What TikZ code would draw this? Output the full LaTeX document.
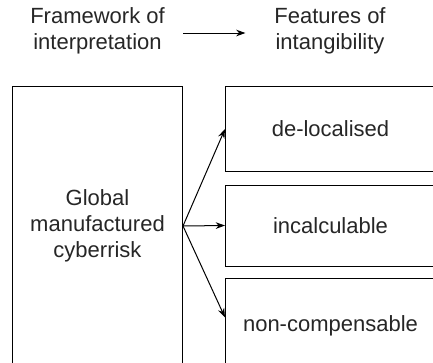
\documentclass[tikz,border=0pt]{standalone}
\usepackage{fontspec}
\setmainfont{Liberation Sans}
\usetikzlibrary{arrows.meta, positioning}

\begin{document}
\begin{tikzpicture}[x=0.75pt, y=-0.75pt, >={Stealth[length=7pt, width=5pt]}, line width=0.75pt,
    every node/.style={text=black!85, font=\fontsize{16.5}{19.5}\selectfont},
    box/.style={draw, align=center, inner sep=0pt, anchor=north west},
    lbl/.style={align=center}]
    \useasboundingbox (0,0) rectangle (433,362);
    \clip (0,0) rectangle (433,362);

    % headings
    \node[lbl] (frame) at (97.5,31) {Framework of\\interpretation};
    \node[lbl] (feat) at (330,31) {Features of\\intangibility};
    \draw[->, shorten <=10pt, shorten >=18pt] ([yshift=-1.5pt]frame.east) -- ([yshift=-1.5pt]feat.west);

    % boxes
    \node[box, minimum width=127.5pt, minimum height=210pt] (glob) at (12,85.5) {Global\\manufactured\\cyberrisk};
    \node[box, minimum width=157.5pt, minimum height=63.75pt] (deloc) at (225,86) {de-localised};
    \node[box, minimum width=157.5pt, minimum height=60.75pt] (incalc) at (225,184.5) {incalculable};
    \node[box, minimum width=157.5pt, minimum height=70.5pt] (noncomp) at (225,278) {non-compensable};

    \draw[->] (glob.east) -- (deloc.west);
    \draw[->] (glob.east) -- (incalc.west);
    \draw[->] (glob.east) -- ([yshift=6pt]noncomp.west);
\end{tikzpicture}
\end{document}
